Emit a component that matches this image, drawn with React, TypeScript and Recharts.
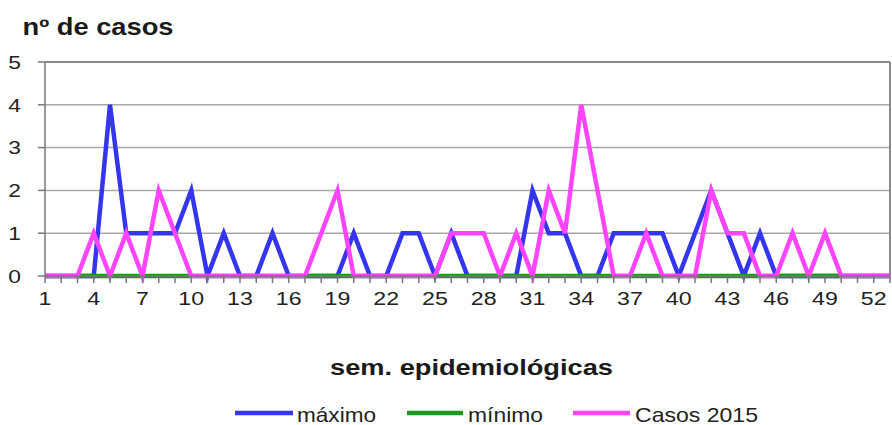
import React from 'react';
import { LineChart, Line, XAxis, YAxis, CartesianGrid, ReferenceLine, Legend } from 'recharts';

const weeks = [1, 2, 3, 4, 5, 6, 7, 8, 9, 10, 11, 12, 13, 14, 15, 16, 17, 18, 19, 20, 21, 22, 23, 24, 25, 26, 27, 28, 29, 30, 31, 32, 33, 34, 35, 36, 37, 38, 39, 40, 41, 42, 43, 44, 45, 46, 47, 48, 49, 50, 51, 52, 53];
const maximo = [0, 0, 0, 0, 4, 1, 1, 1, 1, 2, 0, 1, 0, 0, 1, 0, 0, 0, 0, 1, 0, 0, 1, 1, 0, 1, 0, 0, 0, 0, 2, 1, 1, 0, 0, 1, 1, 1, 1, 0, 1, 2, 1, 0, 1, 0, 0, 0, 0, 0, 0, 0, 0];
const minimo = [0, 0, 0, 0, 0, 0, 0, 0, 0, 0, 0, 0, 0, 0, 0, 0, 0, 0, 0, 0, 0, 0, 0, 0, 0, 0, 0, 0, 0, 0, 0, 0, 0, 0, 0, 0, 0, 0, 0, 0, 0, 0, 0, 0, 0, 0, 0, 0, 0, 0, 0, 0, 0];
const casos2015 = [0, 0, 0, 1, 0, 1, 0, 2, 1, 0, 0, 0, 0, 0, 0, 0, 0, 1, 2, 0, 0, 0, 0, 0, 0, 1, 1, 1, 0, 1, 0, 2, 1, 4, 2, 0, 0, 1, 0, 0, 0, 2, 1, 1, 0, 0, 1, 0, 1, 0, 0, 0, 0];
const xTickLabels = [1, 4, 7, 10, 13, 16, 19, 22, 25, 28, 31, 34, 37, 40, 43, 46, 49, 52];
const yTicks = [0, 1, 2, 3, 4, 5];
const seriesNames = ['máximo', 'mínimo', 'Casos 2015'];
const seriesColors = ['#3535F0', '#1E961E', '#FF44FF'];
const yTitle = 'nº de casos';
const xTitle = 'sem. epidemiológicas';

const data = weeks.map((w, i) => ({ week: w, maximo: maximo[i], minimo: minimo[i], casos: casos2015[i] }));

const FONT = '"Liberation Sans", Arial, Helvetica, sans-serif';

const XTick = (props: any) => {
  const { x, y, payload } = props;
  if (!xTickLabels.includes(payload.value)) return null;
  return (
    <text
      x={0}
      y={0}
      textAnchor="middle"
      fontFamily={FONT}
      fontSize={19}
      fill="#222"
      transform={`translate(${x}, ${y + 20}) scale(1.22, 1)`}
    >
      {payload.value}
    </text>
  );
};

const YTick = (props: any) => {
  const { y, payload } = props;
  return (
    <text
      x={0}
      y={0}
      dy="0.36em"
      textAnchor="end"
      fontFamily={FONT}
      fontSize={19}
      fill="#222"
      transform={`translate(21, ${y}) scale(1.2, 1)`}
    >
      {payload.value}
    </text>
  );
};

const legendLayout = [
  { x1: 235, x2: 293, tx: 297, tw: 79 },
  { x1: 407, x2: 463, tx: 468, tw: 75 },
  { x1: 573, x2: 630, tx: 635, tw: 123 },
];

const renderLegend = () => (
  <svg width={892} height={30} style={{ display: 'block' }}>
    {seriesNames.map((n, i) => (
      <g key={n}>
        <line x1={legendLayout[i].x1} x2={legendLayout[i].x2} y1={18} y2={18} stroke={seriesColors[i]} strokeWidth={4.5} />
        <text
          x={legendLayout[i].tx}
          y={26.5}
          fontFamily={FONT}
          fontSize={21}
          fill="#222"
          textLength={legendLayout[i].tw}
          lengthAdjust="spacingAndGlyphs"
        >
          {n}
        </text>
      </g>
    ))}
  </svg>
);

export default function App() {
  return (
    <div style={{ position: 'absolute', left: 0, top: 0, width: 892, height: 425, background: '#fff' }}>
      <LineChart width={892} height={425} data={data} margin={{ top: 62, right: 2, left: 5, bottom: 119 }}>
        <CartesianGrid vertical={false} stroke="#a8a8a8" strokeWidth={1.5} />
        <ReferenceLine y={5} stroke="#8a8a8a" strokeWidth={2} />
        <ReferenceLine x={53} stroke="#8a8a8a" strokeWidth={2} />
        <XAxis
          dataKey="week"
          type="number"
          domain={[1, 53]}
          ticks={weeks}
          interval={0}
          tick={<XTick />}
          tickSize={7}
          tickLine={{ stroke: '#777', strokeWidth: 1.5 }}
          axisLine={{ stroke: '#777', strokeWidth: 1.5 }}
          height={30}
          label={{
            content: () => (
              <text
                x={471.5}
                y={374.5}
                textAnchor="middle"
                fontFamily={FONT}
                fontWeight="bold"
                fontSize={22}
                fill="#1a1a1a"
                textLength={283}
                lengthAdjust="spacingAndGlyphs"
              >
                {xTitle}
              </text>
            ),
          }}
        />
        <YAxis
          type="number"
          domain={[0, 5]}
          ticks={yTicks}
          interval={0}
          tick={<YTick />}
          tickSize={7}
          tickLine={{ stroke: '#777', strokeWidth: 1.5 }}
          axisLine={{ stroke: '#777', strokeWidth: 1.5 }}
          width={40}
          label={{
            content: () => (
              <text
                x={22.5}
                y={35}
                fontFamily={FONT}
                fontWeight="bold"
                fontSize={23}
                fill="#1a1a1a"
                textLength={151}
                lengthAdjust="spacingAndGlyphs"
              >
                {yTitle}
              </text>
            ),
          }}
        />
        <Legend
          layout="vertical"
          align="center"
          verticalAlign="middle"
          wrapperStyle={{ position: 'absolute', left: 0, top: 395, width: 892, height: 30 }}
          content={renderLegend}
        />
        <Line type="linear" dataKey="maximo" name={seriesNames[0]} stroke={seriesColors[0]} strokeWidth={4.5} dot={false} activeDot={false} isAnimationActive={false} />
        <Line type="linear" dataKey="minimo" name={seriesNames[1]} stroke={seriesColors[1]} strokeWidth={4.5} dot={false} activeDot={false} isAnimationActive={false} />
        <Line type="linear" dataKey="casos" name={seriesNames[2]} stroke={seriesColors[2]} strokeWidth={4.5} dot={false} activeDot={false} isAnimationActive={false} />
      </LineChart>
    </div>
  );
}
